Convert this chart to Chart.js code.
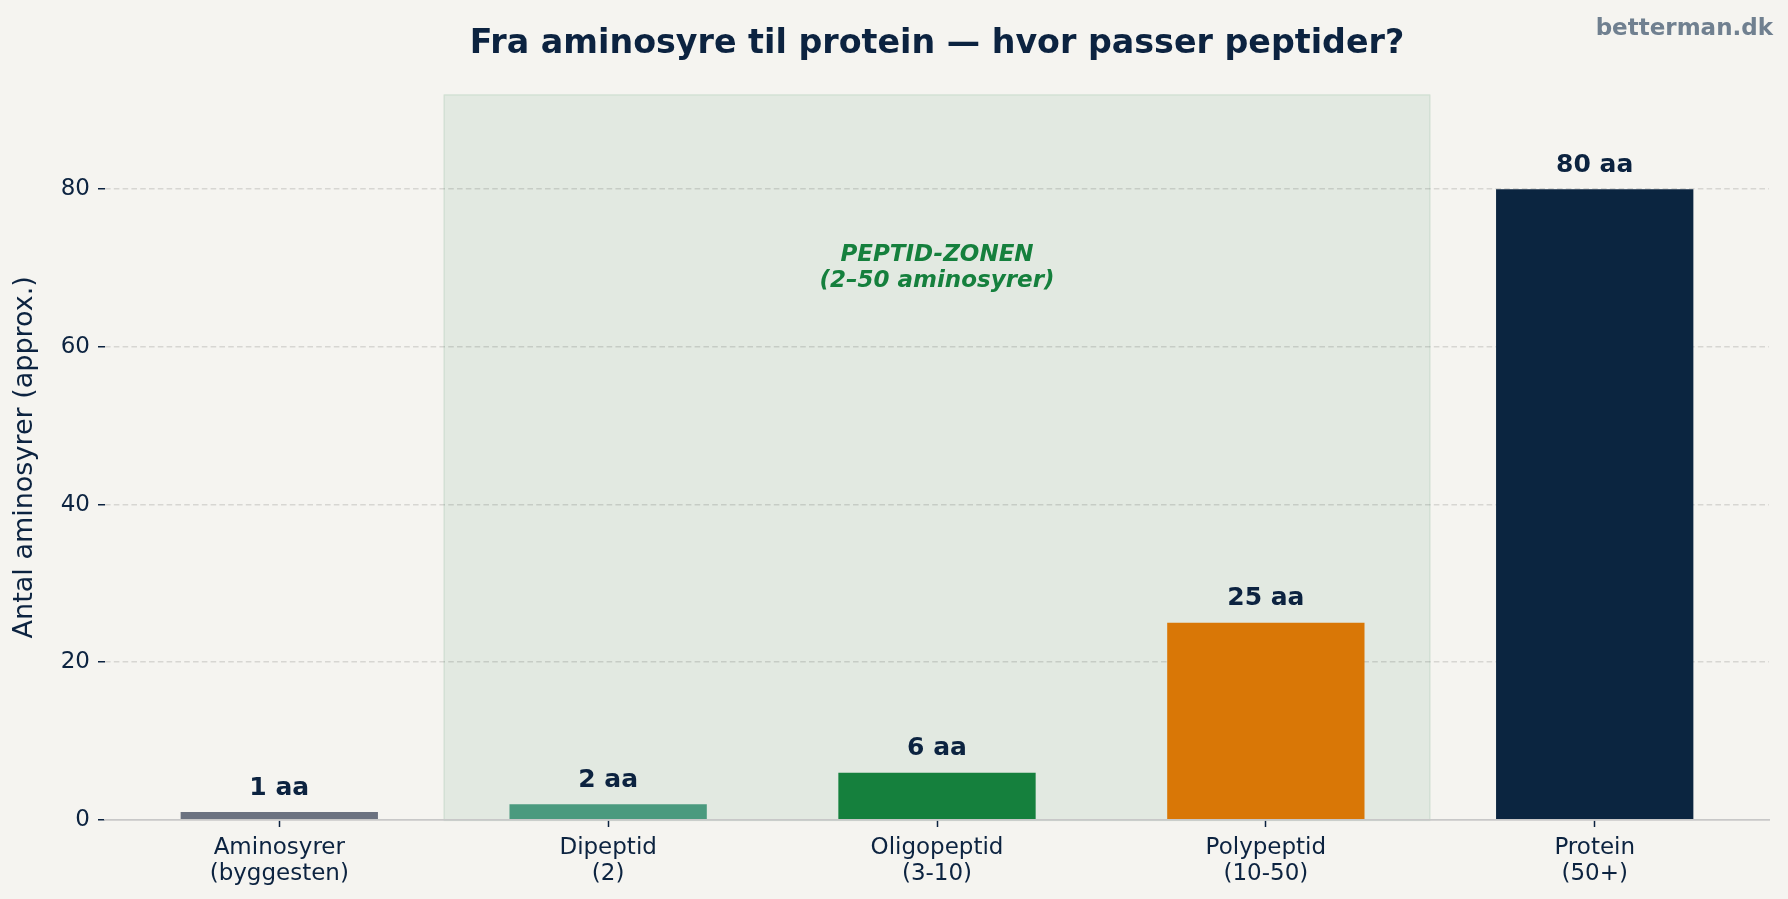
<!DOCTYPE html>
<html><head><meta charset="utf-8">
<script src="https://cdn.jsdelivr.net/npm/chart.js@4.4.1/dist/chart.umd.min.js"></script>
<style>html,body{margin:0;padding:0;background:#f5f4f0;}#wrap{width:1788px;height:899px;}</style>
</head><body><div id="wrap"><canvas id="c" width="1788" height="899"></canvas></div>
<script>
const categories = [["Aminosyrer","(byggesten)"],["Dipeptid","(2)"],["Oligopeptid","(3-10)"],["Polypeptid","(10-50)"],["Protein","(50+)"]];
const values = [1, 2, 6, 25, 80];
const valueLabels = ["1 aa", "2 aa", "6 aa", "25 aa", "80 aa"];
const barColors = ["#6b7280", "#4a9a7e", "#15803d", "#d97706", "#0b2540"];
const yTicks = [0, 20, 40, 60, 80];
const zoneRange = [0.5, 3.5];
const zoneText = ["PEPTID-ZONEN", "(2–50 aminosyrer)"];
const zoneTextY = 70;
const titleText = "Fra aminosyre til protein — hvor passer peptider?";
const yTitle = "Antal aminosyrer (approx.)";
const watermark = "betterman.dk";

const NAVY = "#0c2340";
const FONT = "'DejaVu Sans', sans-serif";

const decor = {
  id: 'decor',
  beforeDraw(chart) {
    const ctx = chart.ctx;
    ctx.save();
    ctx.fillStyle = '#f5f4f0';
    ctx.fillRect(0, 0, chart.width, chart.height);
    const xs = chart.scales.x;
    const x0 = xs.getPixelForValue(zoneRange[0]);
    const x1 = xs.getPixelForValue(zoneRange[1]);
    const top = chart.chartArea.top, bot = chart.chartArea.bottom;
    ctx.fillStyle = '#e2e9e1';
    ctx.fillRect(x0, top, x1 - x0, bot - top);
    ctx.strokeStyle = '#d0dfd2';
    ctx.lineWidth = 1.2;
    ctx.strokeRect(x0 + 0.5, top + 0.5, x1 - x0 - 1, bot - top);
    ctx.restore();
  },
  afterDatasetsDraw(chart) {
    const ctx = chart.ctx;
    const meta = chart.getDatasetMeta(0);
    ctx.save();
    ctx.fillStyle = NAVY;
    ctx.font = "bold 25px " + FONT;
    ctx.textAlign = 'center';
    ctx.textBaseline = 'middle';
    meta.data.forEach((el, i) => {
      ctx.fillText(valueLabels[i], el.x, el.y - 24);
    });
    const xs = chart.scales.x, ys = chart.scales.y;
    const zx = xs.getPixelForValue((zoneRange[0] + zoneRange[1]) / 2);
    const zy = ys.getPixelForValue(zoneTextY);
    ctx.fillStyle = '#15803d';
    ctx.font = "italic bold 23px " + FONT;
    ctx.fillText(zoneText[0], zx, zy - 13);
    ctx.fillText(zoneText[1], zx, zy + 13);
    ctx.restore();
  },
  afterDraw(chart) {
    const ctx = chart.ctx;
    ctx.save();
    ctx.fillStyle = '#708090';
    ctx.font = "bold 23px " + FONT;
    ctx.textAlign = 'right';
    ctx.textBaseline = 'middle';
    ctx.fillText(watermark, 1773, 29.5);
    ctx.restore();
  }
};

new Chart(document.getElementById('c'), {
  type: 'bar',
  data: {
    datasets: [{
      data: values.map((v, i) => ({x: i, y: v})),
      backgroundColor: barColors,
      borderWidth: 0,
      categoryPercentage: 1,
      barPercentage: 0.6
    }]
  },
  plugins: [decor],
  options: {
    responsive: false,
    animation: false,
    devicePixelRatio: 1,
    layout: {padding: {left: 0, right: 19, top: 0, bottom: 0}},
    plugins: {
      legend: {display: false},
      tooltip: {enabled: false},
      title: {
        display: true, text: titleText, fullSize: false, color: NAVY,
        font: {family: FONT, size: 33.3, weight: 'bold'},
        padding: {top: 24, bottom: 30.6}
      }
    },
    scales: {
      x: {
        type: 'linear', min: -0.53, max: 4.53, offset: false,
        afterBuildTicks: s => { s.ticks = categories.map((c, i) => ({value: i})); },
        afterFit: s => { s.height = 79; },
        ticks: {
          callback: v => categories[v], color: NAVY, autoSkip: false, maxRotation: 0,
          font: {family: FONT, size: 23, lineHeight: 1.13}, padding: 8
        },
        grid: {offset: false, drawOnChartArea: false, tickLength: 7, tickColor: NAVY, tickWidth: 1.5},
        border: {color: '#c8c8c8', width: 1.7, z: 1}
      },
      y: {
        min: 0, max: 92,
        afterBuildTicks: s => { s.ticks = yTicks.map(v => ({value: v})); },
        afterFit: s => { s.width = 105; },
        ticks: {color: NAVY, font: {family: FONT, size: 23}, padding: 8},
        grid: {
          color: c => (c.tick && c.tick.value === 0) ? 'rgba(0,0,0,0)' : 'rgba(0,0,0,0.12)',
          lineWidth: 1.6, tickLength: 7, tickColor: NAVY, tickWidth: 1.5, tickBorderDash: [1, 0]
        },
        border: {display: false, dash: [5.6, 3.2]},
        title: {
          display: true, text: yTitle, color: NAVY,
          font: {family: FONT, size: 27}, padding: {top: 9, bottom: 0}
        }
      }
    }
  }
});
</script>
</body></html>
